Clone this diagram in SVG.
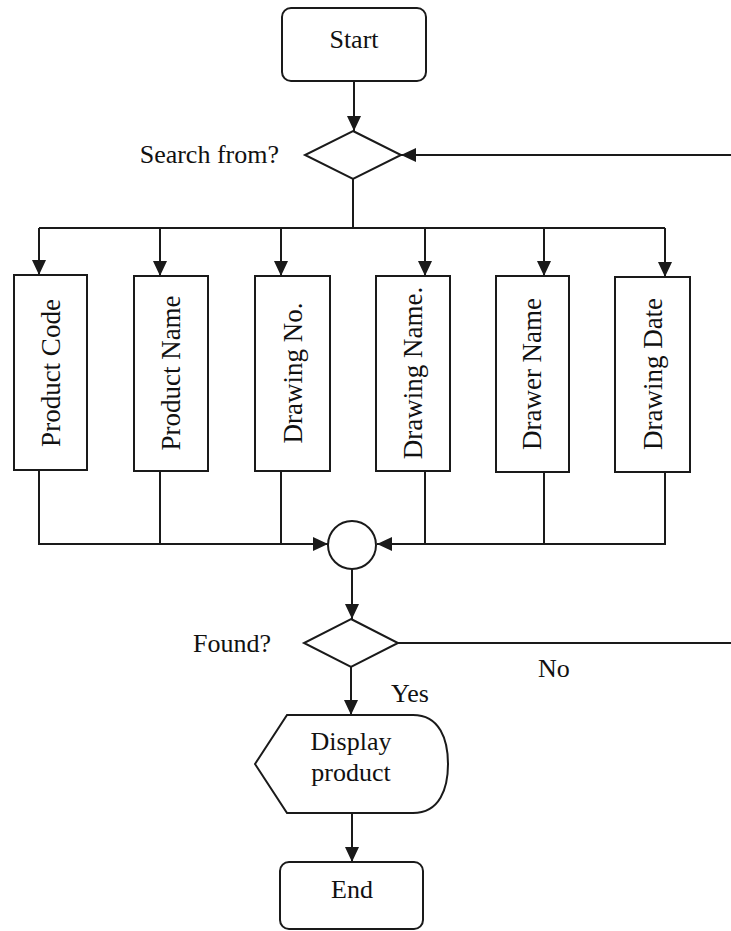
<svg xmlns="http://www.w3.org/2000/svg" width="731" height="931" viewBox="0 0 731 931">
<style>
  .shape { fill: #ffffff; stroke: #1a1a1a; stroke-width: 2; }
  .conn { fill: none; stroke: #1a1a1a; stroke-width: 2; }
  .arr { marker-end: url(#ah); }
  text { font-family: "Liberation Serif", "Times New Roman", serif; font-size: 26px; fill: #111111; }
  .rot { font-size: 27px; }
  .mid { text-anchor: middle; }
  .end { text-anchor: end; }
</style>
<defs>
  <marker id="ah" viewBox="0 0 15 14" refX="15" refY="7" markerWidth="15" markerHeight="14" markerUnits="userSpaceOnUse" orient="auto">
    <path d="M0,0 L15,7 L0,14 Z" fill="#1a1a1a"/>
  </marker>
</defs>
<rect width="731" height="931" fill="#ffffff"/>

<g id="connectors">
  <path class="conn arr" d="M354,81 V131"/>
  <path class="conn arr" d="M731,155 H401"/>
  <path class="conn" d="M353,179 V228"/>
  <path class="conn" d="M39,228 H665"/>
  <path class="conn arr" d="M39,228 V275"/>
  <path class="conn arr" d="M160,228 V276"/>
  <path class="conn arr" d="M281,228 V276"/>
  <path class="conn arr" d="M425,228 V276"/>
  <path class="conn arr" d="M544,228 V276"/>
  <path class="conn arr" d="M665,228 V277"/>
  <path class="conn arr" d="M39,470 V544 H328"/>
  <path class="conn" d="M160,470 V544"/>
  <path class="conn" d="M281,471 V544"/>
  <path class="conn arr" d="M665,472 V544 H377"/>
  <path class="conn" d="M425,471 V544"/>
  <path class="conn" d="M544,471 V544"/>
  <path class="conn arr" d="M352,569 V619"/>
  <path class="conn" d="M398,643 H731"/>
  <path class="conn arr" d="M351,667 V715"/>
  <path class="conn arr" d="M352,813 V862"/>
  <text x="538" y="677">No</text>
  <text x="391" y="702">Yes</text>
</g>

<g id="start">
  <rect class="shape" x="282" y="8" width="144" height="73" rx="9"/>
  <text class="mid" x="354" y="48">Start</text>
</g>

<g id="search-from">
  <path class="shape" d="M353,131 L401,155 L353,179 L305,155 Z"/>
  <text class="end" x="279" y="163">Search from?</text>
</g>

<g id="product-code">
  <rect class="shape" x="14" y="275" width="73" height="195"/>
  <text class="mid rot" transform="translate(60,373) rotate(-90)">Product Code</text>
</g>
<g id="product-name">
  <rect class="shape" x="134" y="276" width="74" height="195"/>
  <text class="mid rot" transform="translate(180,373) rotate(-90)">Product Name</text>
</g>
<g id="drawing-no">
  <rect class="shape" x="255" y="276" width="75" height="195"/>
  <text class="mid rot" transform="translate(302,373) rotate(-90)">Drawing No.</text>
</g>
<g id="drawing-name">
  <rect class="shape" x="376" y="276" width="74" height="195"/>
  <text class="mid rot" transform="translate(422,373) rotate(-90)">Drawing Name.</text>
</g>
<g id="drawer-name">
  <rect class="shape" x="496" y="276" width="73" height="196"/>
  <text class="mid rot" transform="translate(541,374) rotate(-90)">Drawer Name</text>
</g>
<g id="drawing-date">
  <rect class="shape" x="615" y="277" width="75" height="195"/>
  <text class="mid rot" transform="translate(662,374) rotate(-90)">Drawing Date</text>
</g>

<g id="merge">
  <circle class="shape" cx="352" cy="545" r="24"/>
</g>

<g id="found">
  <path class="shape" d="M351,619 L398,643 L351,667 L304,643 Z"/>
  <text class="end" x="271" y="652">Found?</text>
</g>

<g id="display-product">
  <path class="shape" d="M287,715 H413 C440,715 448,740 448,764 C448,788 440,813 413,813 H287 L255,764 Z"/>
  <text class="mid" x="351" y="750">Display</text>
  <text class="mid" x="351" y="781">product</text>
</g>

<g id="end">
  <rect class="shape" x="280" y="862" width="143" height="67" rx="9"/>
  <text class="mid" x="352" y="898">End</text>
</g>
</svg>
